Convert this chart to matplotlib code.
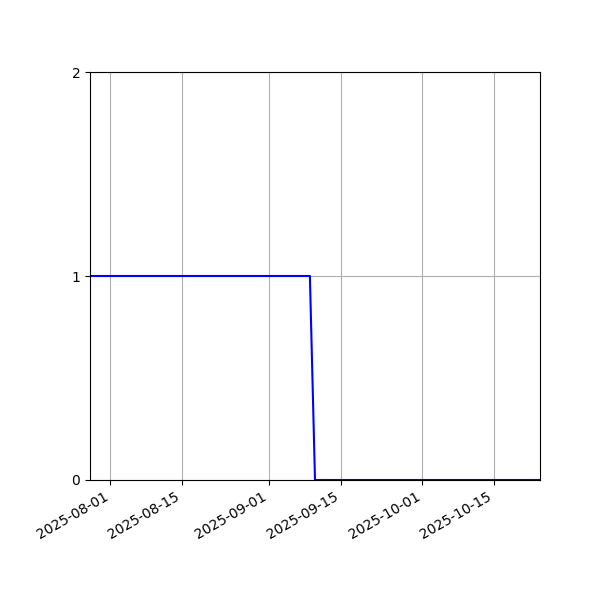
import pandas as pd
import matplotlib
matplotlib.use("Agg")
import matplotlib.pyplot as plt
import matplotlib.dates as mdates

# status flag over time (1 until 2025-09-09, then 0)
dates = ["2025-07-28", "2025-09-09", "2025-09-10", "2025-10-24"]
values = [1, 1, 0, 0]
y_ticks = [0, 1, 2]

dates = pd.to_datetime(dates)

fig, ax = plt.subplots(figsize=(6, 6), dpi=100)
ax.plot(dates, values, color="blue")
ax.set_xlim(dates[0], dates[-1])
ax.set_ylim(0, 2)
ax.set_yticks(y_ticks)
ax.xaxis.set_major_locator(mdates.DayLocator(bymonthday=[1, 15]))
ax.xaxis.set_major_formatter(mdates.DateFormatter("%Y-%m-%d"))
ax.grid(True)
fig.autofmt_xdate()
fig.subplots_adjust(left=0.15, right=0.9, top=0.88, bottom=0.2)
fig.savefig("out.png")
